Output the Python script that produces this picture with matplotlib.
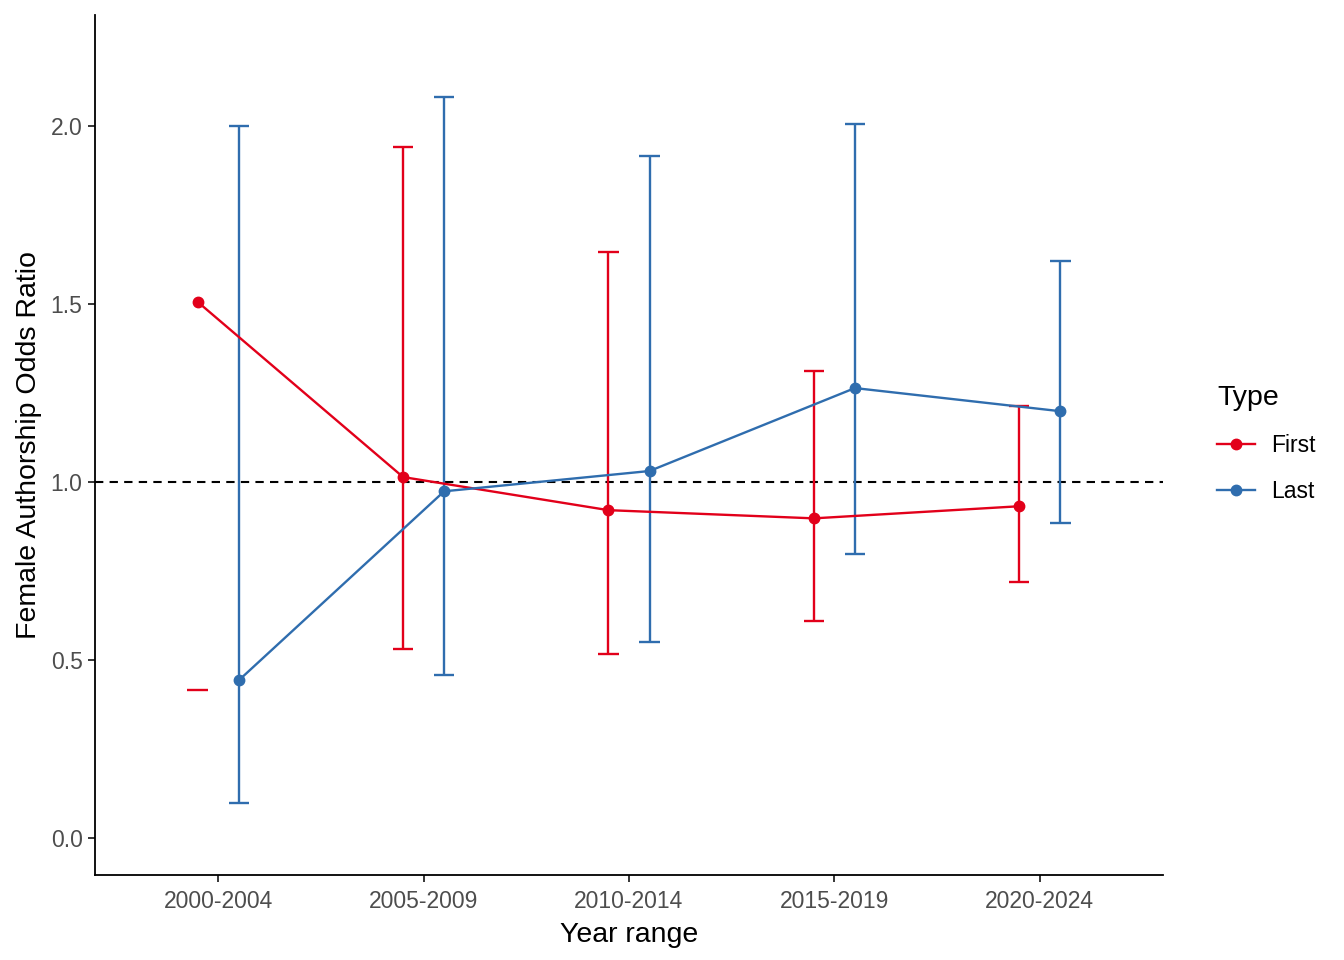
import numpy as np
import matplotlib.pyplot as plt

plt.rcParams['font.family'] = ['Liberation Sans', 'DejaVu Sans']

# données
periodes = ["2000-2004", "2005-2009", "2010-2014", "2015-2019", "2020-2024"]

first_or = [1.505, 1.013, 0.920, 0.897, 0.931]
first_low = [0.416, 0.529, 0.515, 0.610, 0.717]
first_up = [np.nan, 1.941, 1.646, 1.311, 1.212]   # borne haute 2000-2004 hors cadre

last_or = [0.442, 0.973, 1.030, 1.263, 1.198]
last_low = [0.098, 0.456, 0.551, 0.796, 0.883]
last_up = [2.000, 2.081, 1.916, 2.006, 1.620]

rouge = '#E2001A'
bleu = '#2F6DAE'
dodge = 0.1
demi_cap = 0.05

fig = plt.figure(figsize=(13.44, 9.6), dpi=100)
ax = fig.add_axes([0.0707, 0.0885, 0.7946, 0.8955])

x = np.arange(len(periodes))

def trace(xs, y, lo, up, couleur, nom):
    xs = np.asarray(xs, dtype=float)
    y = np.asarray(y); lo = np.asarray(lo); up = np.asarray(up)
    ok = ~np.isnan(up)
    ax.vlines(xs[ok], lo[ok], up[ok], color=couleur, lw=1.7, zorder=2)
    ax.hlines(up[ok], xs[ok] - demi_cap, xs[ok] + demi_cap, color=couleur, lw=1.7, zorder=2)
    ax.hlines(lo, xs - demi_cap, xs + demi_cap, color=couleur, lw=1.7, zorder=2)
    ax.plot(xs, y, '-o', color=couleur, lw=1.7, ms=7.5, label=nom, zorder=3)

ax.axhline(1.0, color='black', ls=(0, (4, 3)), lw=1.5, zorder=1)
trace(x - dodge, first_or, first_low, first_up, rouge, "First")
trace(x + dodge, last_or, last_low, last_up, bleu, "Last")

ax.set_xlim(-0.6, 4.6)
ax.set_ylim(-0.105, 2.31)
ax.set_xticks(x)
ax.set_xticklabels(periodes)
ax.set_yticks([0.0, 0.5, 1.0, 1.5, 2.0])
ax.set_yticklabels(["0.0", "0.5", "1.0", "1.5", "2.0"])
ax.tick_params(axis='both', labelsize=16.5, labelcolor='#4D4D4D', length=5, width=1.1,
               color='black', pad=4)
ax.tick_params(axis='x', pad=6)
for cote in ['top', 'right']:
    ax.spines[cote].set_visible(False)
for cote in ['left', 'bottom']:
    ax.spines[cote].set_linewidth(1.3)

ax.set_xlabel("Year range", fontsize=20.5, labelpad=6)
ax.set_ylabel("Female Authorship Odds Ratio", fontsize=20.5, labelpad=6)

leg = fig.legend(loc='upper left', bbox_to_anchor=(0.897, 0.611), frameon=False,
                 title="Type", fontsize=16.5, title_fontsize=20.5, borderpad=0,
                 handlelength=1.66, labelspacing=1.0, handletextpad=0.7)
leg._legend_box.align = "left"

fig.savefig("out.png", dpi=100)
